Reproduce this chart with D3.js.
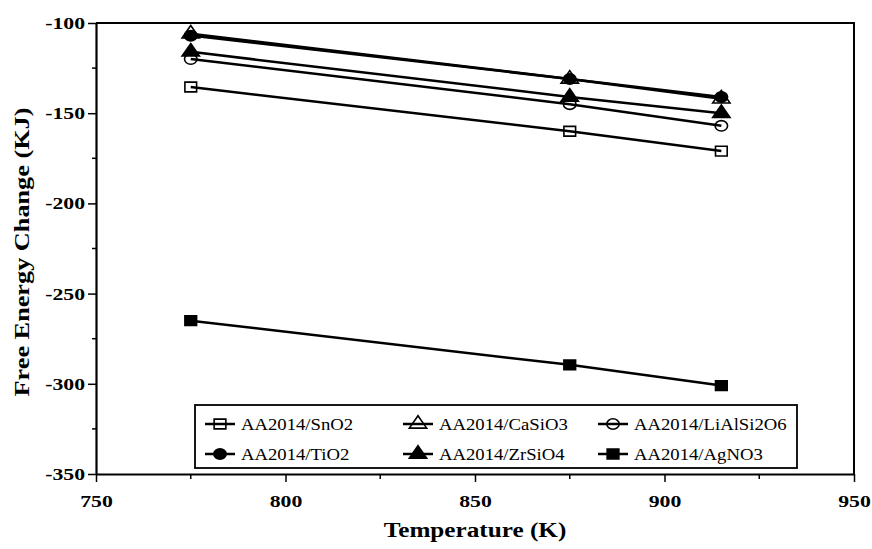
<!DOCTYPE html>
<html>
<head>
<meta charset="utf-8">
<script src="https://cdn.jsdelivr.net/npm/d3@7"></script>
<style>
  html, body { margin: 0; padding: 0; background: #fff; }
  svg { display: block; }
</style>
</head>
<body>
<div id="chart"></div>
<script>
// ── Datos ──────────────────────────────────────────────
const temperatures = [775, 875, 915];
const snO2       = [-135.5, -160, -171];
const caSiO3     = [-106, -131, -142];
const liAlSi2O6  = [-120, -145, -157];
const tiO2       = [-107, -131, -141];
const zrSiO4     = [-116, -141, -150];
const agNO3      = [-265, -289.5, -301];

const seriesNames = ['AA2014/SnO2', 'AA2014/CaSiO3', 'AA2014/LiAlSi2O6',
                     'AA2014/TiO2', 'AA2014/ZrSiO4', 'AA2014/AgNO3'];
const seriesValues = [snO2, caSiO3, liAlSi2O6, tiO2, zrSiO4, agNO3];
const markerKinds = ['square-open', 'triangle-open', 'circle-open',
                     'circle', 'triangle', 'square'];

const xTicks = [750, 800, 850, 900, 950];
const xMinorTicks = [775, 825, 875, 925];
const yTicks = [-350, -300, -250, -200, -150, -100];
const yMinorTicks = [-325, -275, -225, -175, -125];

// ── Lienzo ─────────────────────────────────────────────
const W = 872, H = 549;
const SX = 1.28; // el escaneo original está estirado en horizontal
const FONT = '"Liberation Serif", "Times New Roman", serif';

const svg = d3.select('#chart').append('svg')
    .attr('width', W).attr('height', H)
    .attr('font-family', FONT);

const x = d3.scaleLinear().domain([750, 950]).range([96, 854]);
const y = d3.scaleLinear().domain([-350, -100]).range([474, 23]);

// marco superior y derecho
svg.append('path')
    .attr('d', `M${x(750)},${y(-100)}H${x(950)}V${y(-350)}`)
    .attr('fill', 'none').attr('stroke', '#000').attr('stroke-width', 2);

// ── Ejes ───────────────────────────────────────────────
const xAxis = svg.append('g')
    .attr('transform', `translate(0,${y(-350)})`)
    .call(d3.axisBottom(x).tickValues(xTicks).tickSize(8).tickSizeOuter(0).tickFormat(d => String(d)));
xAxis.append('g').selectAll('line')
    .data(xMinorTicks).join('line')
    .attr('x1', d => x(d)).attr('x2', d => x(d))
    .attr('y1', 0).attr('y2', 5)
    .attr('stroke', '#000').attr('stroke-width', 1.5);

const yAxis = svg.append('g')
    .attr('transform', `translate(${x(750)},0)`)
    .call(d3.axisLeft(y).tickValues(yTicks).tickSize(8).tickSizeOuter(0).tickFormat(d => String(d)));
yAxis.append('g').selectAll('line')
    .data(yMinorTicks).join('line')
    .attr('y1', d => y(d)).attr('y2', d => y(d))
    .attr('x1', 0).attr('x2', -4)
    .attr('stroke', '#000').attr('stroke-width', 1.5);

[xAxis, yAxis].forEach(a => a
    .attr('font-family', FONT)
    .attr('font-size', 17)
    .attr('font-weight', 'bold'));

svg.selectAll('.domain').attr('stroke', '#000').attr('stroke-width', 2.2);
svg.selectAll('.tick line').attr('stroke', '#000').attr('stroke-width', 1.5);

xAxis.selectAll('.tick text')
    .attr('y', 21).attr('dy', '0.71em')
    .attr('transform', `scale(${SX},1)`);

yAxis.selectAll('.tick text')
    .attr('x', -11 / SX)
    .attr('transform', `scale(${SX},1)`);

// títulos de ejes
svg.append('text')
    .attr('transform', `translate(${(x(750) + x(950)) / 2},537) scale(1.2,1)`)
    .attr('text-anchor', 'middle')
    .attr('font-size', 21).attr('font-weight', 'bold')
    .text('Temperature (K)');

svg.append('text')
    .attr('transform', `translate(29,252) rotate(-90) scale(1.25,1)`)
    .attr('text-anchor', 'middle')
    .attr('font-size', 21).attr('font-weight', 'bold')
    .text('Free Energy Change (KJ)');

// ── Marcadores ─────────────────────────────────────────
function drawMarker(g, kind, cx, cy) {
    const shape = kind.startsWith('square') ? d3.symbolSquare
                : kind.startsWith('triangle') ? d3.symbolTriangle
                : d3.symbolCircle;
    const size = kind.startsWith('square') ? 95 : kind.startsWith('triangle') ? 90 : 85;
    const open = kind.endsWith('open');
    g.append('path')
        .attr('d', d3.symbol().type(shape).size(size)())
        .attr('transform', `translate(${cx},${cy}) scale(1.2,1)`)
        .attr('fill', open ? 'none' : '#000')
        .attr('stroke', '#000')
        .attr('stroke-width', 1.6)
        .attr('vector-effect', 'non-scaling-stroke');
}

// ── Series ─────────────────────────────────────────────
const line = d3.line()
    .x((d, i) => x(temperatures[i]))
    .y(d => y(d));

const plot = svg.append('g');
seriesValues.forEach(vals => {
    plot.append('path')
        .attr('d', line(vals))
        .attr('fill', 'none')
        .attr('stroke', '#000')
        .attr('stroke-width', 2.5);
});
seriesValues.forEach((vals, s) => {
    vals.forEach((v, i) => drawMarker(plot, markerKinds[s], x(temperatures[i]), y(v)));
});

// ── Leyenda ────────────────────────────────────────────
const legend = svg.append('g');
legend.append('rect')
    .attr('x', 195).attr('y', 405)
    .attr('width', 602).attr('height', 63)
    .attr('fill', '#fff').attr('stroke', '#000').attr('stroke-width', 1.8);

const legendCols = [220, 418, 613];
const legendRows = [424, 454];
seriesNames.forEach((name, i) => {
    const cx = legendCols[i % 3];
    const cy = legendRows[Math.floor(i / 3)];
    legend.append('line')
        .attr('x1', cx - 15).attr('x2', cx + 15)
        .attr('y1', cy).attr('y2', cy)
        .attr('stroke', '#000').attr('stroke-width', 2.5);
    drawMarker(legend, markerKinds[i], cx, cy);
    legend.append('text')
        .attr('transform', `translate(${cx + 21},${cy + 6}) scale(1.1,1)`)
        .attr('font-size', 17)
        .text(name);
});
</script>
</body>
</html>
